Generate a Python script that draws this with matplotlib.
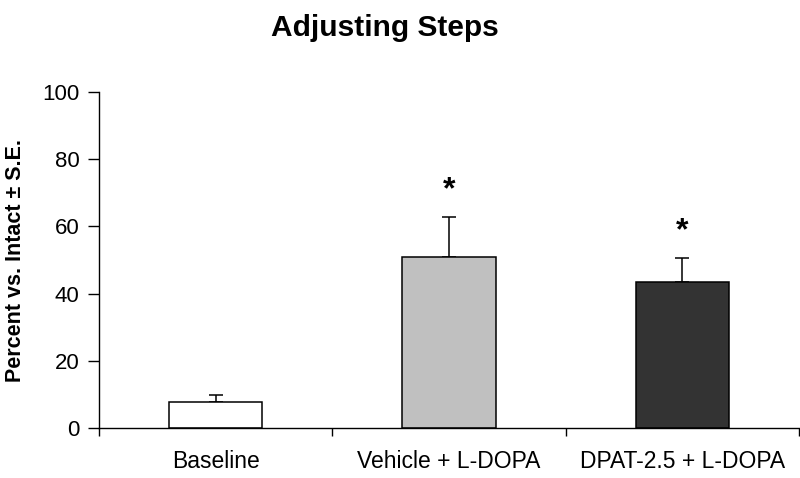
import numpy as np
import matplotlib.pyplot as plt

plt.rcParams['font.family'] = ['Liberation Sans', 'DejaVu Sans']

# データ
groups = ['Baseline', 'Vehicle + L-DOPA', 'DPAT-2.5 + L-DOPA']
means = [7.7, 51.0, 43.5]
errors = [2.1, 11.9, 7.1]
colors = ['#FFFFFF', '#C0C0C0', '#333333']
marks = ['', '*', '*']
yticks = [0, 20, 40, 60, 80, 100]

fig = plt.figure(figsize=(8, 4.78), dpi=100)
ax = fig.add_axes([99 / 800, 1 - 427.7 / 478, 700 / 800, (427.7 - 92.3) / 478])

x = np.arange(len(groups))
ax.bar(x, means, width=0.4, color=colors, edgecolor='black', linewidth=1.1, zorder=2)
ax.errorbar(x, means, yerr=[np.zeros(len(means)), errors], fmt='none',
            ecolor='black', elinewidth=1.1, capsize=5, capthick=1.1, zorder=1)

# 有意差マーク
for xi, m, e, s in zip(x, means, errors, marks):
    if s:
        ax.text(xi, m + e + 8, s, ha='center', va='center', fontsize=23, fontweight='bold')

ax.set_xlim(-0.5, 2.5)
ax.set_ylim(0, 100)
ax.set_yticks(yticks)
ax.set_yticklabels([str(t) for t in yticks], fontsize=16)
ax.set_xticks([-0.5, 0.5, 1.5, 2.5])
ax.set_xticklabels([])
ax.set_xticks(x, minor=True)
ax.set_xticklabels(groups, minor=True, fontsize=16.5)
ax.tick_params(axis='x', which='minor', length=0, pad=16)
ax.tick_params(axis='x', which='major', length=6, width=1, direction='out')
ax.tick_params(axis='y', length=8, width=1, direction='out', pad=6)

ax.spines['top'].set_visible(False)
ax.spines['right'].set_visible(False)
ax.spines['left'].set_linewidth(1)
ax.spines['bottom'].set_linewidth(1)

ax.set_ylabel('Percent vs. Intact ± S.E.', fontsize=15.5, fontweight='bold', labelpad=12)
fig.text(385 / 800, 1 - 28 / 478, 'Adjusting Steps', ha='center', va='center',
         fontsize=21.5, fontweight='bold')

fig.savefig('out.png', dpi=100)
